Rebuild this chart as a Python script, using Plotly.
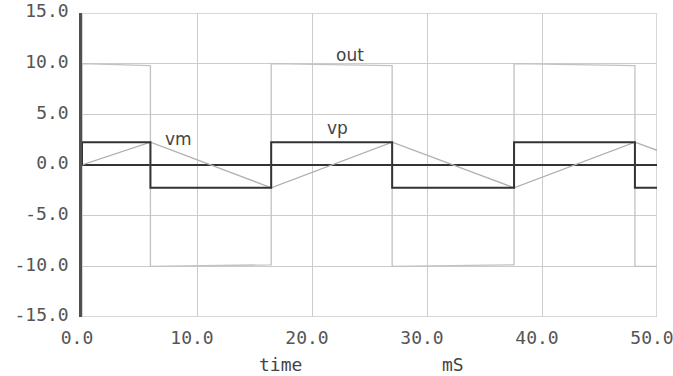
import plotly.graph_objects as go

# transition times (ms)
out_t = [0, 0, 5.95, 5.95, 16.45, 16.45, 26.97, 26.97, 37.57, 37.57, 48.08, 48.08, 50]
out_v = [0, 10.0, 9.8, -10.0, -9.85, 10.0, 9.8, -10.0, -9.85, 10.0, 9.8, -10.0, -10.0]

vm_t = [0, 5.95, 16.45, 26.97, 37.57, 48.08, 50]
vm_v = [0, 2.25, -2.25, 2.25, -2.25, 2.25, 1.45]

vp_t = [0, 0, 5.95, 5.95, 16.45, 16.45, 26.97, 26.97, 37.57, 37.57, 48.08, 48.08, 50]
vp_v = [0, 2.25, 2.25, -2.25, -2.25, 2.25, 2.25, -2.25, -2.25, 2.25, 2.25, -2.25, -2.25]

x_ticks = [0, 10, 20, 30, 40, 50]
x_ticktext = ["0.0", "10.0", "20.0", "30.0", "40.0", "50.0"]
y_ticks = [-15, -10, -5, 0, 5, 10, 15]
y_ticktext = ["-15.0", "-10.0", "-5.0", "0.0", "5.0", "10.0", "15.0"]

labels = [("out", 23.3, 10.9), ("vp", 22.2, 3.7), ("vm", 8.36, 2.6)]

mono = "DejaVu Sans Mono"

fig = go.Figure()
fig.add_trace(go.Scatter(x=out_t, y=out_v, mode="lines", line=dict(color="#c2c2c2", width=1.3), name="out"))
fig.add_trace(go.Scatter(x=vm_t, y=vm_v, mode="lines", line=dict(color="#b0b0b0", width=1.3), name="vm"))
fig.add_trace(go.Scatter(x=vp_t, y=vp_v, mode="lines", line=dict(color="#333333", width=2), name="vp"))

for txt, x, y in labels:
    fig.add_annotation(x=x, y=y, text=txt, showarrow=False,
                       font=dict(family="DejaVu Sans", size=17, color="#444444"))

fig.add_annotation(x=17.25, y=0, yref="paper", yshift=-47, yanchor="middle",
                   text="time", showarrow=False,
                   font=dict(family=mono, size=18, color="#444444"))
fig.add_annotation(x=32.3, y=0, yref="paper", yshift=-47, yanchor="middle",
                   text="mS", showarrow=False,
                   font=dict(family=mono, size=18, color="#444444"))

fig.add_shape(type="rect", x0=0, x1=50, y0=-15, y1=15, xref="x", yref="y",
              line=dict(color="#cccccc", width=1.5), layer="below")

fig.update_layout(
    width=673, height=376,
    margin=dict(l=82, r=16, t=13, b=59),
    paper_bgcolor="white", plot_bgcolor="white",
    showlegend=False,
    hovermode=False,
    xaxis=dict(range=[0, 50], tickvals=x_ticks, ticktext=x_ticktext,
               automargin=False, ticklabeloverflow="allow",
               showgrid=True, gridcolor="#cccccc", gridwidth=1.2,
               zeroline=False, showline=False,
               ticks="outside", ticklen=4, tickcolor="rgba(0,0,0,0)",
               ticklabelshift=-5,
               tickfont=dict(family=mono, size=18, color="#555555")),
    yaxis=dict(range=[-15, 15], tickvals=y_ticks, ticktext=y_ticktext,
               automargin=False, ticklabeloverflow="allow",
               showgrid=True, gridcolor="#cccccc", gridwidth=1.2,
               zeroline=True, zerolinecolor="#333333", zerolinewidth=2,
               showline=True, linecolor="#505050", linewidth=2.5,
               ticks="outside", ticklen=7, tickcolor="rgba(0,0,0,0)",
               ticklabelshift=-2,
               layer="below traces",
               tickfont=dict(family=mono, size=18, color="#555555")),
)

fig.write_html("out.html", config={"displayModeBar": False},
               post_script="document.body.style.margin='0';document.body.style.overflow='hidden';")
